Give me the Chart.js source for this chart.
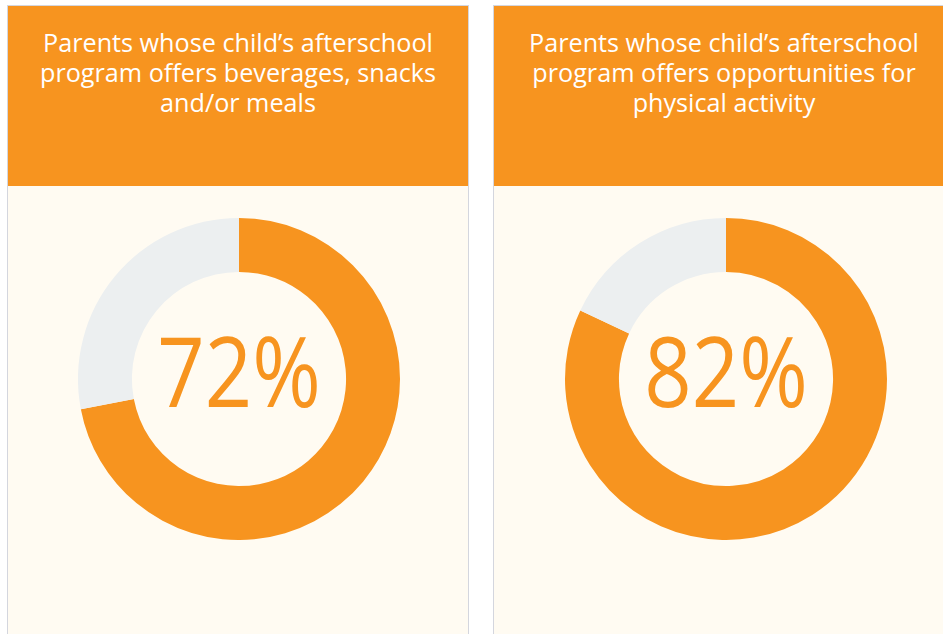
<!DOCTYPE html>
<html>
<head>
<meta charset="utf-8">
<script src="https://cdn.jsdelivr.net/npm/chart.js@4/dist/chart.umd.min.js"></script>
<style>
  html, body { margin: 0; padding: 0; background: #ffffff; }
  body { width: 943px; height: 634px; position: relative; overflow: hidden; font-family: "Open Sans", sans-serif; }
  .panel {
    position: absolute; top: 5px; width: 460px; height: 700px;
    background: #fffbf2; border: 1px solid #d4d6de;
  }
  .head {
    height: 180px; background: #f7941f; color: #ffffff;
    font-size: 25.2px; line-height: 30px; text-align: center;
    padding-top: 21px; box-sizing: border-box; white-space: nowrap;
  }
  .panel canvas { position: absolute; top: 212px; }
</style>
</head>
<body>
<div class="panel" style="left:7px">
  <div class="head" id="t0"></div>
  <canvas id="c0" width="460" height="322" style="left:1px"></canvas>
</div>
<div class="panel" style="left:493px">
  <div class="head" id="t1"></div>
  <canvas id="c1" width="460" height="322" style="left:2px"></canvas>
</div>
<script>
// values
const titles = [
    ["Parents whose child\u2019s afterschool", "program offers beverages, snacks", "and/or meals"],
    ["Parents whose child\u2019s afterschool", "program offers opportunities for", "physical activity"]
];
const labels = ["Yes", "No"];
const yesValues = [72, 82];
const orange = "#f7941f";
const grey = "#eceff0";

const centerText = {
    id: "centerText",
    afterDraw(chart) {
        const { ctx } = chart;
        const arc = chart.getDatasetMeta(0).data[0];
        const pct = chart.data.datasets[0].data[0] + "%";
        ctx.save();
        ctx.translate(arc.x, arc.y);
        ctx.scale(0.855, 1);
        ctx.fillStyle = orange;
        ctx.font = '97px "Open Sans"';
        ctx.textAlign = "center";
        ctx.textBaseline = "middle";
        ctx.fillText(pct, 0, 0);
        ctx.restore();
    }
};

yesValues.forEach((v, i) => {
    document.getElementById("t" + i).innerHTML = titles[i].join("<br>");
    new Chart(document.getElementById("c" + i), {
        type: "doughnut",
        data: {
            labels,
            datasets: [{
                data: [v, 100 - v],
                backgroundColor: [orange, grey],
                borderWidth: 0
            }]
        },
        options: {
            responsive: false,
            animation: false,
            cutout: "66.5%",
            plugins: {
                legend: { display: false },
                tooltip: { enabled: false }
            }
        },
        plugins: [centerText]
    });
});
</script>
</body>
</html>
